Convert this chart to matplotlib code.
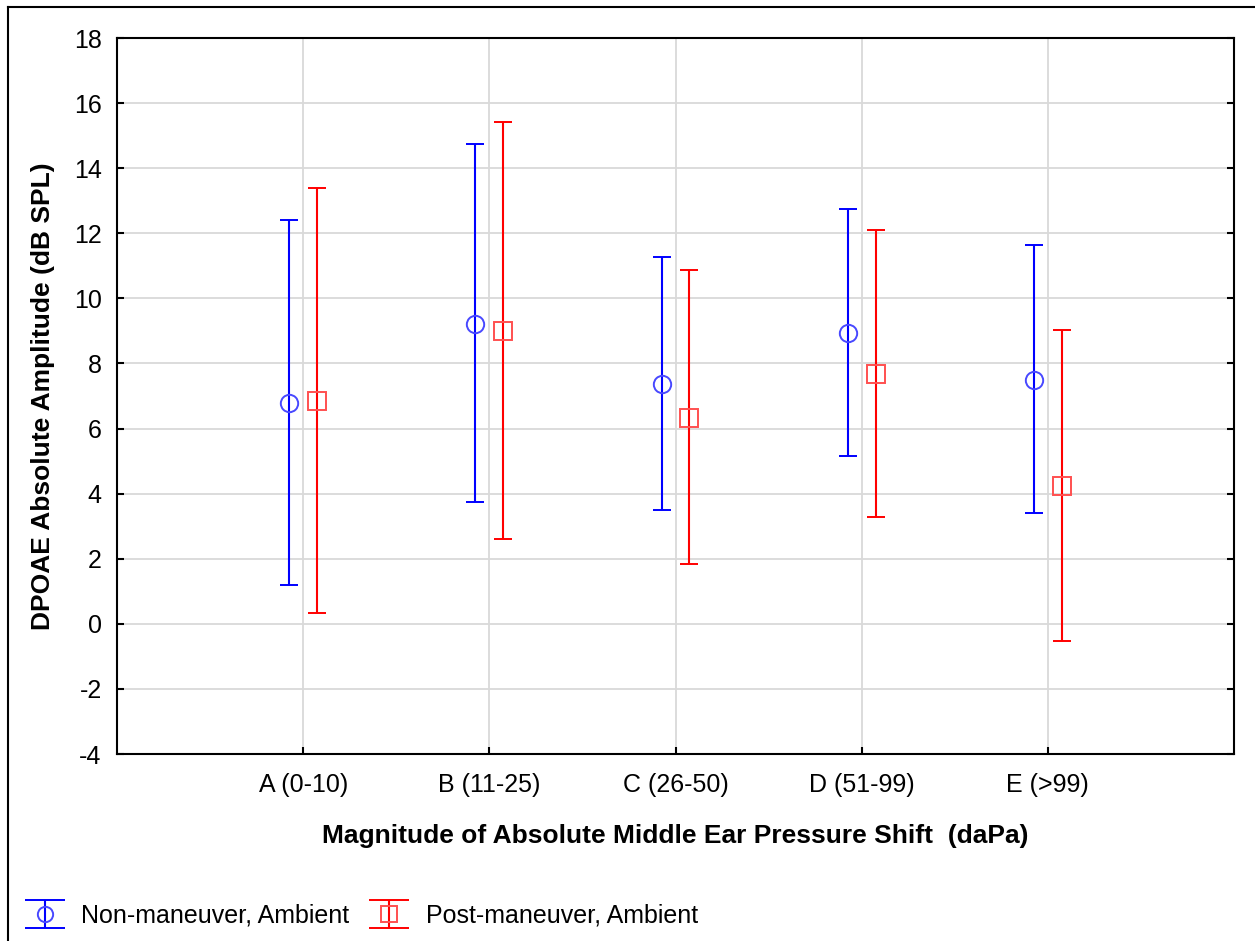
import numpy as np
import matplotlib
matplotlib.use("Agg")
import matplotlib.pyplot as plt
from matplotlib.lines import Line2D
from matplotlib.legend_handler import HandlerErrorbar

plt.rcParams['font.family'] = ['Liberation Sans', 'DejaVu Sans']
plt.rcParams['axes.unicode_minus'] = False

categories = ['A (0-10)', 'B (11-25)', 'C (26-50)', 'D (51-99)', 'E (>99)']
non_mean = [6.80, 9.22, 7.36, 8.95, 7.48]
non_low = [1.19, 3.73, 3.50, 5.16, 3.40]
non_high = [12.42, 14.74, 11.27, 12.75, 11.63]
post_mean = [6.84, 9.00, 6.33, 7.69, 4.23]
post_low = [0.32, 2.61, 1.83, 3.29, -0.54]
post_high = [13.40, 15.43, 10.86, 12.09, 9.02]
yticks = list(range(-4, 19, 2))

fig = plt.figure(figsize=(12.55, 9.41), dpi=100)
ax = fig.add_axes([0.0932, 0.1987, 0.8901, 0.7609])

x = np.arange(len(categories))
off = 0.075

def draw(xs, mean, low, high, color, edge, marker, label):
    mean = np.array(mean)
    err = [mean - np.array(low), np.array(high) - mean]
    return ax.errorbar(xs, mean, yerr=err, fmt=marker, color=color,
                       ecolor=color, elinewidth=1.5, capsize=6.5, capthick=1.5,
                       markersize=12.5, markerfacecolor='none',
                       markeredgecolor=edge, markeredgewidth=1.4,
                       label=label, zorder=3)

h1 = draw(x - off, non_mean, non_low, non_high, '#0000ff', '#4848ff', 'o',
          'Non-maneuver, Ambient')
h2 = draw(x + off, post_mean, post_low, post_high, '#ff0000', '#ff5050', 's',
          'Post-maneuver, Ambient')

ax.set_xlim(-1, 5)
ax.set_ylim(-4, 18)
ax.set_xticks(x)
ax.set_xticklabels(categories)
ax.set_yticks(yticks)
ax.grid(True, color='#d9d9d9', linewidth=1.3, zorder=0)
ax.set_axisbelow(True)
for s in ax.spines.values():
    s.set_linewidth(1.5)
ax.tick_params(axis='both', direction='in', length=5, width=1.5,
               labelsize=18)
ax.tick_params(axis='x', pad=14)
ax.tick_params(axis='y', right=True, pad=11)

ax.set_ylabel('DPOAE Absolute Amplitude (dB SPL)', fontsize=19,
              fontweight='bold', va='center')
ax.set_xlabel('Magnitude of Absolute Middle Ear Pressure Shift  (daPa)',
              fontsize=19, fontweight='bold', va='center')
ax.yaxis.set_label_coords(-0.0662, 0.5)
ax.xaxis.set_label_coords(0.5, -0.1145)


def upd(lh, oh):
    lh.update_from(oh)
    if isinstance(lh, Line2D) and lh.get_marker() == '_':
        lh.set_markersize(29)
    elif isinstance(lh, Line2D) and lh.get_marker() in ('o', 's'):
        lh.set_markersize(11)


hm = {type(h1): HandlerErrorbar(yerr_size=0.55, update_func=upd)}
fig.legend(handles=[h1, h2], loc='center left',
           bbox_to_anchor=(-0.004, 0.027), ncol=2, frameon=False,
           fontsize=18, handlelength=2.2, handletextpad=0.35,
           columnspacing=0.5, handler_map=hm)

# outer frame (top and left edges visible)
fig.add_artist(Line2D([8 / 1255, 1], [1 - 7 / 941, 1 - 7 / 941],
                      color='black', linewidth=1.5, transform=fig.transFigure))
fig.add_artist(Line2D([8 / 1255, 8 / 1255], [0, 1 - 7 / 941],
                      color='black', linewidth=1.5, transform=fig.transFigure))

fig.savefig('out.png', dpi=100)
